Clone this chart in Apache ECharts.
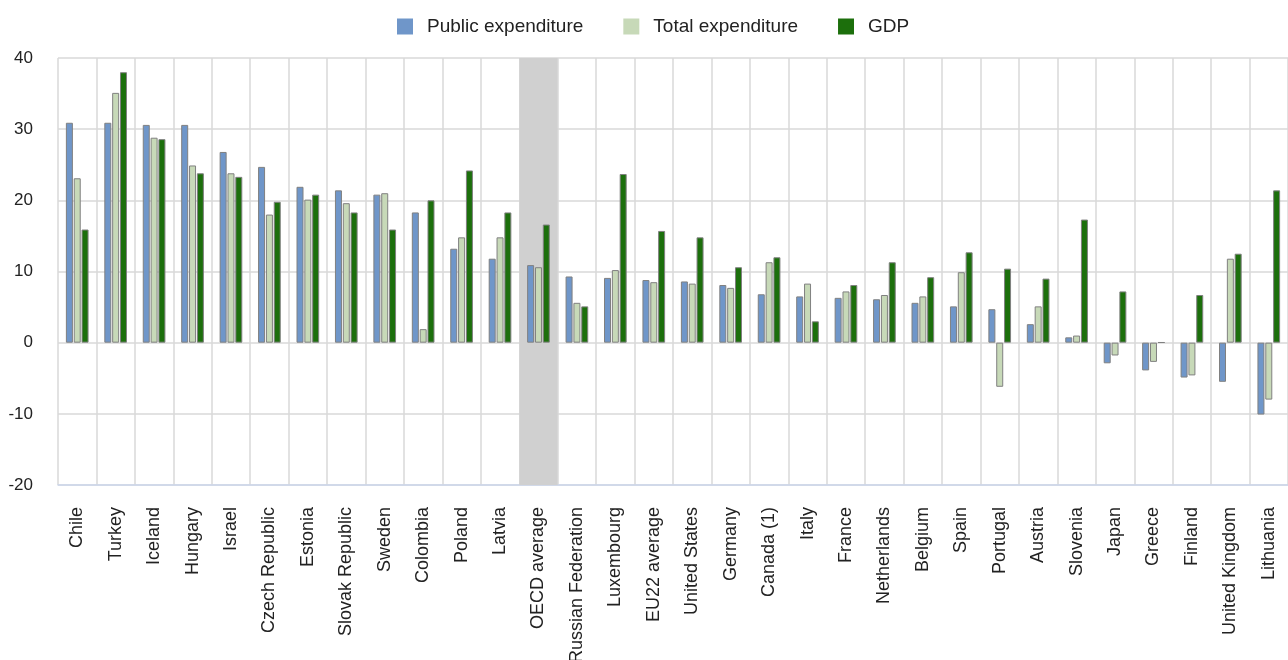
<!DOCTYPE html>
<html>
<head>
<meta charset="utf-8">
<script src="https://cdn.jsdelivr.net/npm/echarts@6/dist/echarts.min.js"></script>
<style>
  html, body { margin: 0; padding: 0; background: #fff; }
  #chart { width: 1288px; height: 660px; }
</style>
</head>
<body>
<div id="chart"></div>
<script>
// 国家 / 平均值
var countries = ['Chile', 'Turkey', 'Iceland', 'Hungary', 'Israel', 'Czech Republic', 'Estonia',
    'Slovak Republic', 'Sweden', 'Colombia', 'Poland', 'Latvia', 'OECD average', 'Russian Federation',
    'Luxembourg', 'EU22 average', 'United States', 'Germany', 'Canada (1)', 'Italy', 'France',
    'Netherlands', 'Belgium', 'Spain', 'Portugal', 'Austria', 'Slovenia', 'Japan', 'Greece',
    'Finland', 'United Kingdom', 'Lithuania'];

var publicExp = [30.9, 30.9, 30.6, 30.6, 26.8, 24.7, 21.9, 21.4, 20.8, 18.3, 13.2, 11.8, 10.9, 9.3,
    9.1, 8.8, 8.6, 8.1, 6.8, 6.5, 6.3, 6.1, 5.6, 5.1, 4.7, 2.6, 0.75, -2.9, -3.9, -4.9, -5.5, -10.1];
var totalExp = [23.1, 35.1, 28.8, 24.9, 23.8, 18.0, 20.1, 19.6, 21.0, 1.9, 14.8, 14.8, 10.6, 5.6,
    10.2, 8.5, 8.3, 7.7, 11.3, 8.3, 7.2, 6.7, 6.5, 9.9, -6.2, 5.1, 1.0, -1.8, -2.7, -4.6, 11.8, -8.0];
var gdp = [15.9, 38.0, 28.6, 23.8, 23.3, 19.8, 20.8, 18.3, 15.9, 20.0, 24.2, 18.3, 16.6, 5.1,
    23.7, 15.7, 14.8, 10.6, 12.0, 3.0, 8.1, 11.3, 9.2, 12.7, 10.4, 9.0, 17.3, 7.2, 0.05, 6.7, 12.5, 21.4];

var yTicks = { min: -20, max: 40, step: 10 };
var highlight = 'OECD average';

var chart = echarts.init(document.getElementById('chart'));

function barSeries(name, data, color) {
    return {
        name: name,
        type: 'bar',
        data: data,
        barWidth: 7,
        barGap: '12%',
        itemStyle: {
            color: color,
            borderColor: '#808080',
            borderWidth: 1
        }
    };
}

var series = [
    barSeries('Public expenditure', publicExp, '#6f96c9'),
    barSeries('Total expenditure', totalExp, '#c7d9b8'),
    barSeries('GDP', gdp, '#1c6f0c')
];
// 灰色背景区域
series[0].markArea = {
    silent: true,
    itemStyle: { color: '#d0d0d0' },
    data: [[{ xAxis: highlight }, { xAxis: highlight }]]
};

var option = {
    animation: false,
    textStyle: { fontFamily: 'Liberation Sans, Arial, sans-serif' },
    legend: {
        top: 12,
        left: 392,
        itemWidth: 16,
        itemHeight: 16,
        itemGap: 40,
        icon: 'rect',
        itemStyle: { borderWidth: 0 },
        textStyle: { fontSize: 19, color: '#222', padding: [0, 0, 0, 9] },
        data: ['Public expenditure', 'Total expenditure', 'GDP']
    },
    grid: {
        left: 58,
        right: 0,
        top: 58,
        bottom: 175,
        outerBoundsMode: 'none'
    },
    xAxis: {
        type: 'category',
        data: countries,
        axisLine: { onZero: false, lineStyle: { color: '#ccd6eb', width: 1.5 } },
        axisTick: { show: false },
        splitLine: { show: true, lineStyle: { color: '#d9d9d9', width: 1.5 } },
        axisLabel: {
            rotate: 90,
            interval: 0,
            fontSize: 18,
            color: '#222',
            margin: 22
        }
    },
    yAxis: {
        type: 'value',
        min: yTicks.min,
        max: yTicks.max,
        interval: yTicks.step,
        axisLine: { show: false },
        axisTick: { show: false },
        splitLine: { lineStyle: { color: '#d9d9d9', width: 1.5 } },
        axisLabel: { fontSize: 17, color: '#222', margin: 25 }
    },
    series: series
};

chart.setOption(option);
</script>
</body>
</html>
